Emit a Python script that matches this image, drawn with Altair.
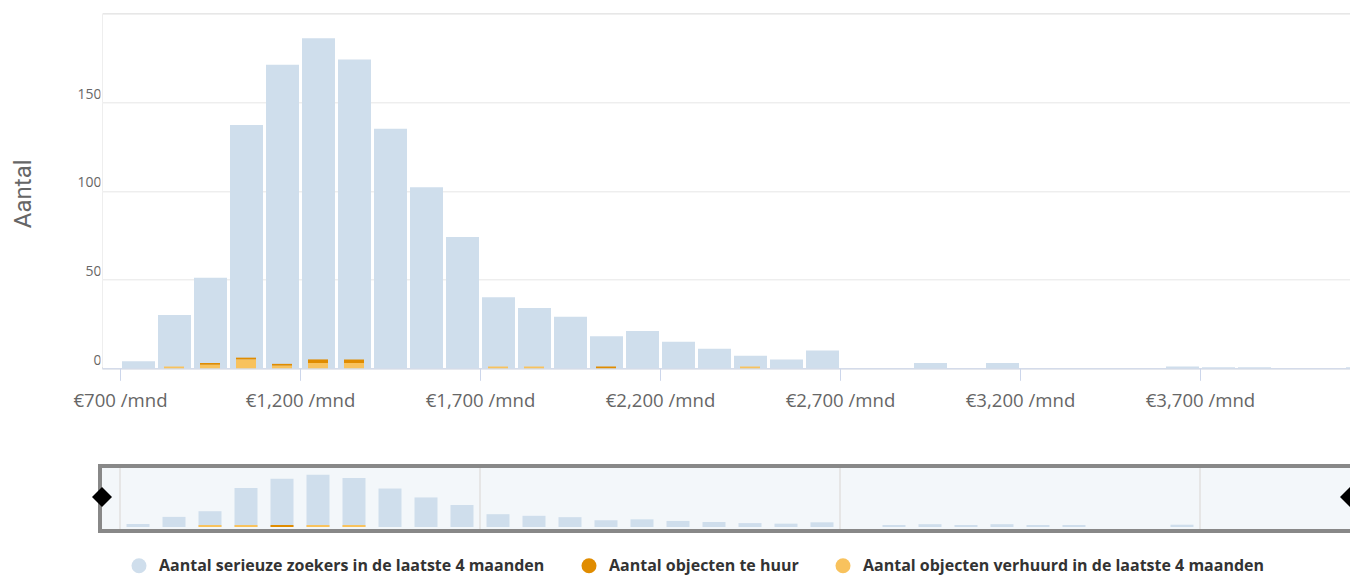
import altair as alt
import pandas as pd

FONT = "Open Sans"

series_names = [
    "Aantal serieuze zoekers in de laatste 4 maanden",
    "Aantal objecten te huur",
    "Aantal objecten verhuurd in de laatste 4 maanden",
]
series_colors = ["#cfdeec", "#e08c00", "#f8c25d"]

bins = [700, 800, 900, 1000, 1100, 1200, 1300, 1400, 1500, 1600,
        1700, 1800, 1900, 2000, 2100, 2200, 2300, 2400, 2500, 2600,
        2700, 2800, 2900, 3000, 3100, 3200, 3300, 3400, 3500, 3600,
        3700, 3800, 3900, 4000, 4100]
zoekers = [4, 30, 51, 137, 171, 186, 174, 135, 102, 74,
           40, 34, 29, 18, 21, 15, 11, 7, 5, 10,
           None, 0, 3, 0, 3, 0, 0, None, None, 1,
           0.6, 0.6, None, None, 0.6]
te_huur = [0, 0, 1, 1, 1, 2, 2, 0, 0, 0,
           0, 0, 0, 1, 0, 0, 0, 0, 0, 0,
           0, 0, 0, 0, 0, 0, 0, 0, 0, 0,
           0, 0, 0, 0, 0]
verhuurd = [0, 1, 2, 5, 1.5, 3, 3, 0, 0, 0,
            1, 1, 0, 0, 0, 0, 0, 1, 0, 0,
            0, 0, 0, 0, 0, 0, 0, 0, 0, 0,
            0, 0, 0, 0, 0]
nav_zoekers = [4, 30, 51, 137, 171, 186, 174, 135, 102, 74,
               40, 34, 29, 18, 21, 15, 11, 7, 5, 10,
               None, 0, 3, 0, 3, 0, 0, None, None, 1,
               None, None, None, None, None]
nav_te_huur = [None, None, None, None, 0, None, None, None, None, None,
               None, None, None, None, None, None, None, None, None, None,
               None, None, None, None, None, None, None, None, None, None,
               None, None, None, None, None]
nav_verhuurd = [None, None, 0, 0, None, 0, 0, None, None, None,
                None, None, None, None, None, None, None, None, None, None,
                None, None, None, None, None, None, None, None, None, None,
                None, None, None, None, None]

x_ticks = [700, 1200, 1700, 2200, 2700, 3200, 3700]
nav_grid = [700, 1700, 2700, 3700]
y_ticks = [0, 50, 100, 150, 200]
x_domain = [650, 4116.7]
y_domain = [0, 200]
nav_y_domain = [-7.4, 211]

df = pd.DataFrame({
    "bin": bins, "zoekers": zoekers, "te_huur": te_huur, "verhuurd": verhuurd,
    "nav_zoekers": nav_zoekers, "nav_te_huur": nav_te_huur, "nav_verhuurd": nav_verhuurd,
})
grid_df = pd.DataFrame({"g": nav_grid})
one = alt.Data(values=[{"a": 1}])

W, H = 1248, 355

x_scale = alt.Scale(domain=x_domain, nice=False, zero=False, padding=0)
y_scale = alt.Scale(domain=y_domain, nice=False, zero=True)
nav_y_scale = alt.Scale(domain=nav_y_domain, range=[513.7, 454.7], nice=False, zero=False)

x_axis = alt.Axis(
    values=x_ticks, title=None, grid=False, domain=True,
    labelExpr="'€' + format(datum.value, ',') + ' /mnd'",
    domainColor="#ccd6eb", tickColor="#ccd6eb", tickSize=12,
    labelFont=FONT, labelFontSize=18.6, labelColor="#666666", labelPadding=11,
    labelFlush=False, labelOverlap=False,
)
y_axis = alt.Axis(
    values=y_ticks, grid=True, gridColor="#e6e6e6", domain=False, ticks=False, tickSize=0,
    labelExpr="datum.value < 200 ? datum.label : ''",
    labelFont=FONT, labelFontSize=14, labelColor="#666666", labelPadding=1,
    labelBaseline="alphabetic", labelOffset=-4,
    title="Aantal", titleFont="Roboto", titleFontSize=24, titleFontWeight="normal",
    titleColor="#666666", titleAngle=270, titleX=-71.5, titleY=180,
    titleBaseline="alphabetic", titleAlign="center",
)
color_scale = alt.Scale(domain=series_names, range=series_colors)
legend = alt.Legend(
    orient="none", legendX=29, legendY=544.5, direction="horizontal", columns=3,
    title=None, symbolType="circle", symbolSize=225, symbolStrokeWidth=0,
    labelFont=FONT, labelFontSize=16, labelFontWeight="bold", labelColor="#333333",
    labelOffset=12, columnPadding=36, labelLimit=600,
)
color_enc = alt.Color("series:N", scale=color_scale, legend=legend)


def ser(i):
    return "'" + series_names[i] + "'"


base = alt.Chart(df)

blue = base.transform_filter("isValid(datum.zoekers)").transform_calculate(
    end="datum.bin + 100", series=ser(0)
).mark_bar(binSpacing=3).encode(
    x=alt.X("bin:Q", bin="binned", scale=x_scale, axis=x_axis),
    x2="end:Q",
    y=alt.Y("zoekers:Q", scale=y_scale, axis=y_axis),
    color=color_enc,
)

light = base.transform_filter("datum.verhuurd > 0").transform_calculate(
    center="datum.bin + 50", series=ser(2)
).mark_bar(width=20).encode(
    x=alt.X("center:Q", scale=x_scale, axis=x_axis),
    y=alt.Y("verhuurd:Q", scale=y_scale, axis=y_axis),
    color=color_enc,
)

dark = base.transform_filter("datum.te_huur > 0").transform_calculate(
    center="datum.bin + 50", lo="datum.verhuurd", hi="datum.verhuurd + datum.te_huur",
    series=ser(1)
).mark_bar(width=20).encode(
    x=alt.X("center:Q", scale=x_scale, axis=x_axis),
    y=alt.Y("lo:Q", scale=y_scale, axis=y_axis),
    y2="hi:Q",
    color=color_enc,
)

# white edge over the plot's left border (the reference has no vertical line there)
edge = alt.Chart(one).mark_rule(color="#ffffff", strokeWidth=2).encode(
    x=alt.value(-0.5), y=alt.value(-1), y2=alt.value(H - 1)
)

main = alt.layer(blue, light, dark, edge)

nav_bg = alt.Chart(one).mark_rect(fill="#f3f7fa", stroke="#888888", strokeWidth=4).encode(
    x=alt.value(-2), x2=alt.value(W + 2), y=alt.value(452.7), y2=alt.value(517.7)
)
nav_lines = alt.Chart(grid_df).mark_rule(color="#e6e6e6", strokeWidth=2).encode(
    x=alt.X("g:Q", scale=x_scale, axis=x_axis),
    y=alt.value(454.7), y2=alt.value(515.7),
)
nav_blue = base.transform_filter("isValid(datum.nav_zoekers)").transform_calculate(
    center="datum.bin + 50", series=ser(0)
).mark_bar(width=23).encode(
    x=alt.X("center:Q", scale=x_scale, axis=x_axis),
    y=alt.Y("nav_zoekers:Q", scale=nav_y_scale, axis=None),
    y2=alt.Y2Datum(nav_y_domain[0]),
    color=color_enc,
)
nav_light = base.transform_filter("isValid(datum.nav_verhuurd)").transform_calculate(
    center="datum.bin + 50", series=ser(2)
).mark_bar(width=23).encode(
    x=alt.X("center:Q", scale=x_scale, axis=x_axis),
    y=alt.Y("nav_verhuurd:Q", scale=nav_y_scale, axis=None),
    y2=alt.Y2Datum(nav_y_domain[0]),
    color=color_enc,
)
nav_dark = base.transform_filter("isValid(datum.nav_te_huur)").transform_calculate(
    center="datum.bin + 50", series=ser(1)
).mark_bar(width=23).encode(
    x=alt.X("center:Q", scale=x_scale, axis=x_axis),
    y=alt.Y("nav_te_huur:Q", scale=nav_y_scale, axis=None),
    y2=alt.Y2Datum(nav_y_domain[0]),
    color=color_enc,
)
handle_l = alt.Chart(one).mark_point(shape="diamond", filled=True, size=400, color="#000000", opacity=1).encode(
    x=alt.value(0), y=alt.value(483.7)
)
handle_r = alt.Chart(one).mark_point(shape="diamond", filled=True, size=400, color="#000000", opacity=1).encode(
    x=alt.value(W), y=alt.value(483.7)
)

nav = alt.layer(nav_bg, nav_lines, nav_blue, nav_light, nav_dark, handle_l, handle_r)

chart = alt.layer(main, nav).resolve_scale(y="independent").properties(
    width=W, height=H,
    autosize=alt.AutoSizeParams(type="none"),
    padding={"left": 94, "top": 5.3, "right": 0, "bottom": 209},
).configure_view(stroke=None, strokeWidth=0).configure_axisY(domain=False).configure(font=FONT)

chart.save("out.html", embed_options={"renderer": "svg", "actions": False})
